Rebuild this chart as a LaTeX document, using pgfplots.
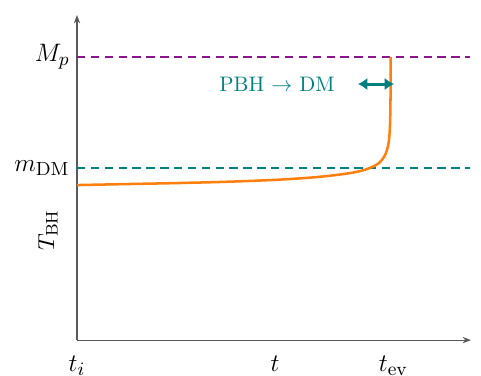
\documentclass[border=0pt]{standalone}
\usepackage{pgfplots}
\pgfplotsset{compat=1.18}
\usetikzlibrary{arrows.meta}
\definecolor{mpurple}{RGB}{140,20,140}
\definecolor{mteal}{RGB}{0,128,128}
\definecolor{morange}{RGB}{255,127,14}
\begin{document}
\begin{tikzpicture}
\begin{axis}[
  scale only axis,
  width=187.6pt, height=154.8pt,
  xmin=0, xmax=394, ymin=0, ymax=325,
  axis lines=left,
  axis line style={draw=black!65, line width=0.5pt, -{Stealth[length=4pt,width=3pt]}},
  major tick length=0pt,
  xtick={0,198,316.5},
  xticklabels={$t_i$,$t$,$t_{\mathrm{ev}}$},
  ytick={172,283},
  yticklabels={$m_{\mathrm{DM}}$,$M_p$},
  ticklabel style={font=\fontsize{12.5}{14}\selectfont},
  xticklabel style={yshift=-4pt},
  clip=false,
]
\addplot[mpurple, line width=1.3pt, dash pattern=on 4pt off 2.6pt] coordinates {(0,283) (393,283)};
\addplot[mteal, line width=1.3pt, dash pattern=on 4pt off 2.6pt] coordinates {(0,172) (393,172)};
\addplot[morange, line width=1.2pt, smooth, tension=0.5] coordinates {
(0,155) (50,156) (100,157) (150,158.3) (200,160.3) (240,163) (270,166.5) (285,169.5) (295,173) (302,177) (307,183) (310,190) (312,200) (313,215) (313.5,240) (313.7,283)};
\addplot[mteal, line width=1.4pt, {Latex[length=4.5pt,width=6pt]}-{Latex[length=4.5pt,width=6pt]}] coordinates {(281,256) (317,256)};
\node[text=mteal] at (axis cs:200,256) {PBH $\rightarrow$ DM};
\node[rotate=90, font=\fontsize{11}{13}\selectfont] at (axis cs:-29,110) {$T_{\mathrm{BH}}$};
\coordinate (bl) at (axis cs:-77,-35);
\coordinate (tr) at (axis cs:404,340);
\end{axis}
\pgfresetboundingbox
\path (bl) rectangle (tr);
\end{tikzpicture}
\end{document}
